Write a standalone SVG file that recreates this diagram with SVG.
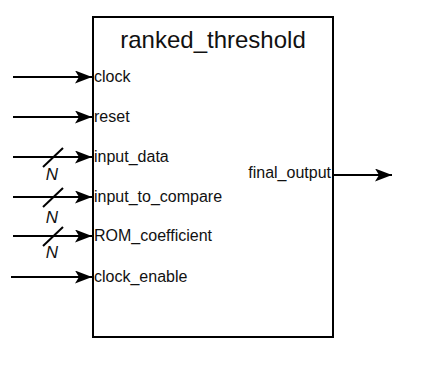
<svg xmlns="http://www.w3.org/2000/svg" width="422" height="367" viewBox="0 0 422 367">
<style>
.lbl{font-family:"Liberation Sans",Arial,sans-serif;font-size:16px;fill:#111}
.ttl{font-family:"Liberation Sans",Arial,sans-serif;font-size:24px;fill:#111}
.n{font-family:"Liberation Sans",Arial,sans-serif;font-size:17px;font-style:italic;fill:#111}
.w{stroke:#000;stroke-width:2;fill:none}
</style>
<defs>
<marker id="ah" viewBox="0 0 17 13" refX="17" refY="6.5" markerWidth="17" markerHeight="13" markerUnits="userSpaceOnUse" orient="auto">
<path d="M0,0 L17,6.5 L0,13 L4,6.5 Z" fill="#000"/>
</marker>
</defs>
<g id="block">
<rect x="93" y="17" width="240" height="320" fill="#fff" stroke="#000" stroke-width="2"/>
<text class="ttl" x="213" y="48" text-anchor="middle">ranked_threshold</text>
</g>
<g id="connectors">
<line class="w" x1="13" y1="77" x2="92" y2="77" marker-end="url(#ah)"/>
<line class="w" x1="13" y1="117" x2="92" y2="117" marker-end="url(#ah)"/>
<line class="w" x1="13" y1="157" x2="92" y2="157" marker-end="url(#ah)"/>
<line class="w" x1="13" y1="197" x2="92" y2="197" marker-end="url(#ah)"/>
<line class="w" x1="13" y1="236" x2="92" y2="236" marker-end="url(#ah)"/>
<line class="w" x1="11" y1="277" x2="92" y2="277" marker-end="url(#ah)"/>
<line class="w" x1="333" y1="175" x2="392" y2="175" marker-end="url(#ah)"/>
<line class="w" x1="43" y1="167" x2="63" y2="148"/>
<line class="w" x1="43" y1="207" x2="63" y2="188"/>
<line class="w" x1="43" y1="246" x2="63" y2="227"/>
</g>
<g id="labels">
<text class="lbl" x="94" y="82">clock</text>
<text class="lbl" x="94" y="122">reset</text>
<text class="lbl" x="94" y="162">input_data</text>
<text class="lbl" x="94" y="202">input_to_compare</text>
<text class="lbl" x="94" y="241">ROM_coefficient</text>
<text class="lbl" x="94" y="282">clock_enable</text>
<text class="lbl" x="331" y="177.5" text-anchor="end">final_output</text>
<text class="n" x="52" y="180" text-anchor="middle">N</text>
<text class="n" x="52" y="223" text-anchor="middle">N</text>
<text class="n" x="52" y="258" text-anchor="middle">N</text>
</g>
</svg>
